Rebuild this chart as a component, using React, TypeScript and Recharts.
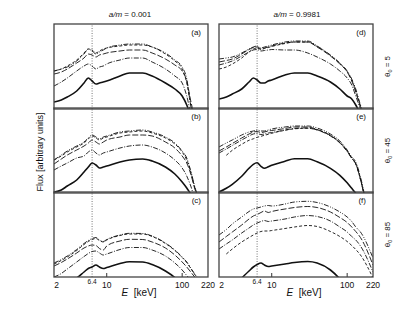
import React from 'react';
import { LineChart, Line, XAxis, YAxis, ReferenceLine } from 'recharts';

// Photon energy grid (keV)
const ENERGY = [2, 2.5, 3, 4, 5, 5.7, 6.4, 7.2, 8, 9, 10, 15, 20, 30, 40, 60, 80, 100, 115, 130, 150, 220];
const TICKS = [2, 6.4, 10, 100, 220];

// Panel (a): a/m = 0.001, theta0 = 5  (flux, arbitrary units)
const A_1 = [38, 40, 42, 48, 55, 60, 58, 55, 57, 59, 61, 64, 65, 65, 62, 56, 49, 42, 30, 3, -17, -40];
const A_2 = [35, 37, 40, 46, 51, 55, 54, 52, 54, 55, 56, 58, 59, 59, 56, 50, 44, 38, 28, 8, -12, -40];
const A_3 = [23, 27, 31, 38, 43, 45, 43, 40, 42, 43, 45, 49, 51, 51, 47, 40, 33, 26, 13, -4, -17, -40];
const A_4 = [38, 40, 43, 49, 56, 60, 59, 56, 58, 60, 61, 63, 64, 64, 62, 55, 48, 40, 26, 4, -12, -40];
const A_S = [7, 9, 12, 18, 26, 31, 28, 25, 26, 27, 28, 33, 36, 36, 33, 26, 20, 13, 4, -7, -17, -40];

// Panel (b): a/m = 0.001, theta0 = 45
const B_1 = [33, 38, 42, 47, 51, 55, 58, 56, 54, 56, 57, 61, 62, 63, 61, 56, 50, 42, 35, 22, 4, -17];
const B_2 = [29, 34, 38, 43, 47, 50, 53, 51, 49, 51, 53, 56, 58, 58, 57, 51, 45, 37, 30, 19, 2, -17];
const B_3 = [23, 27, 30, 35, 37, 41, 43, 40, 38, 40, 41, 45, 47, 48, 46, 40, 33, 25, 17, 7, -7, -17];
const B_4 = [33, 37, 41, 46, 50, 54, 57, 55, 53, 55, 56, 60, 61, 62, 60, 55, 49, 41, 33, 21, 3, -17];
const B_S = [1, 3, 7, 13, 21, 26, 30, 28, 25, 26, 27, 31, 33, 34, 32, 26, 19, 11, 5, -1, -7, -17];

// Panel (c): a/m = 0.001, theta0 = 85
const C_1 = [14, 17.5, 21, 27.5, 33.5, 36.5, 38.5, 39.5, 37, 35.5, 37.5, 42, 43.7, 43.5, 41, 34, 27, 20, 15, 9, 2, -8];
const C_2 = [11, 14.5, 18, 24, 29, 31, 32, 31.5, 28.5, 27, 31, 36, 37.7, 37.5, 35, 29, 22, 15, 10, 5, -1, -13];
const C_3 = [0, 3.5, 8, 15, 20.5, 23.5, 25.5, 26, 24, 22, 23, 27.5, 29.5, 29.5, 27, 21, 14, 7, 1.5, -3, -8, -18];
const C_4 = [13, 16.5, 20, 26.5, 32.5, 35.5, 37.5, 38.5, 36.5, 35, 37, 41.5, 43, 43, 40.5, 33.5, 26.5, 19.5, 14.5, 8.5, 1.5, -8];
const C_S = [-13, -9, -6, -1, 5, 8.5, 10, 12, 10, 8.5, 9.5, 13.5, 15.3, 15, 12.5, 6, -0.5, -7, -11, -15, -20, -33];

// Panel (d): a/m = 0.9981, theta0 = 5
const D_1 = [50, 51, 52, 56, 60, 62, 63, 61, 62, 63, 64, 67, 68, 68, 63, 54, 46, 38, 30, 20, 4, -22];
const D_2 = [47, 48.5, 50, 55, 59.5, 61.5, 62, 60, 61, 62, 63, 66, 67, 67, 62, 53, 45, 37, 28, 17, 2, -22];
const D_3 = [44, 46, 48, 53, 57, 59, 59.5, 58, 58.5, 59, 59.5, 59, 59, 56, 52, 45, 38, 31, 24, 13, 0, -22];
const D_4 = [40, 42, 45, 51, 57, 60, 61, 59.5, 60.5, 61.5, 62.5, 65.5, 67, 67, 62.5, 53.5, 45.5, 37.5, 29, 18, 3, -22];
const D_S = [10, 12, 15, 20, 27, 31, 29, 26, 26, 28, 29, 34, 36, 36, 33, 27, 20, 13, 10, 4, -5, -22];

// Panel (e): a/m = 0.9981, theta0 = 45
const E_1 = [46, 50, 53, 58, 61, 62, 63, 62, 62, 63, 64, 66, 67, 67, 65, 59, 52, 43, 36, 31, 16, -50];
const E_2 = [42, 46, 49.5, 55, 59, 61, 61.5, 60.5, 61, 62, 62.5, 64.5, 66, 66, 63.5, 57.5, 50.5, 42, 35, 29.5, 14, -50];
const E_3 = [40, 44, 47.5, 53, 57, 59, 59.5, 58.5, 59, 60, 60.5, 63, 64.5, 65, 63, 57, 50, 41.5, 34.5, 29, 13.5, -50];
const E_4 = [null, 37.7, 42.7, 48.7, 52.7, 54.2, 55.7, 56.7, 57.7, 58.7, 59.7, 62.7, 64.2, 64.7, 63.2, 57.7, 50.5, 42, 35, 29, 14, -50];
const E_S = [1, 4.7, 8.7, 16.7, 24.7, 28.7, 30.2, 26.7, 24.7, 26.2, 27.7, 31.7, 34.2, 34.2, 31.2, 24.7, 17.7, 10.2, 4.7, -0.3, -7, -22];

// Panel (f): a/m = 0.9981, theta0 = 85
const F_1 = [42, 47.5, 53, 60, 65.5, 68, 69, 70, 71, 71.5, 71, 73, 75, 75.7, 74.5, 70, 65, 60, 55.5, 50, 45, 19];
const F_2 = [35, 40.5, 45, 52, 58, 61, 62.5, 64.5, 66, 64.5, 65.5, 68, 69.5, 70.5, 69.5, 65, 59.5, 54.5, 50, 45.5, 39.5, 12];
const F_3 = [28, 33, 37, 44, 49, 52, 54, 55.5, 56.5, 55.5, 56, 58, 60, 61.5, 60.5, 56, 50, 45, 40.5, 37, 31, 5];
const F_4 = [null, 23, 28, 35, 39.5, 42, 44, 45.5, 46, 46, 46.5, 48.5, 50, 51.5, 50.5, 45.5, 40.5, 35.5, 31.5, 27.5, 22, -1];
const F_S = [-23, -16, -10, -1, 6, 10, 12.5, 14, 12, 10.5, 11, 13, 14.5, 15.5, 14, 7, -2, -11, -17, -22, -28, -45];

const PANELS = [
  { label: '(a)', col: 0, row: 0, series: [A_1, A_2, A_3, A_4, A_S] },
  { label: '(b)', col: 0, row: 1, series: [B_1, B_2, B_3, B_4, B_S] },
  { label: '(c)', col: 0, row: 2, series: [C_1, C_2, C_3, C_4, C_S] },
  { label: '(d)', col: 1, row: 0, series: [D_1, D_2, D_3, D_4, D_S] },
  { label: '(e)', col: 1, row: 1, series: [E_1, E_2, E_3, E_4, E_S] },
  { label: '(f)', col: 1, row: 2, series: [F_1, F_2, F_3, F_4, F_S] },
];

const COL_TITLES = ['0.001', '0.9981'];
const ROW_ANGLES = ['5', '45', '85'];

const STYLES = [
  { key: 's1', dash: '5 1.5 1 1.5 1 1.5', width: 0.9 },
  { key: 's2', dash: '6 2', width: 0.9 },
  { key: 's3', dash: '5 1.5 1 1.5', width: 0.9 },
  { key: 's4', dash: '3 2', width: 0.9 },
  { key: 's5', dash: undefined, width: 1.6 },
];

const FONT = '"Liberation Sans", Arial, Helvetica, sans-serif';
const COL_X = [54, 219];
const ROW_Y = [24, 108, 192];
const PW = 154;
const PH = 85;
const AXIS_H = 25;
const PAD = 12;

function buildRows(series: (number | null)[][]) {
  return ENERGY.map((e, i) => {
    const row: any = { E: e };
    series.forEach((s, k) => {
      row['s' + (k + 1)] = s[i];
    });
    return row;
  });
}

function AxisTick(props: any) {
  const { x, y, payload, showLabel } = props;
  const v = payload.value;
  const inner = v === 10 || v === 100;
  const small = v === 6.4;
  const dx = v === 2 ? 2.5 : 0;
  return (
    <g>
      {inner && <line x1={x} x2={x} y1={y} y2={y - 4} stroke="#333" strokeWidth={1} />}
      {showLabel && (
        <text
          x={x + dx}
          y={y + (small ? 7 : 11)}
          textAnchor="middle"
          fontSize={small ? 6.5 : 8.5}
          fill="#111"
          fontFamily={FONT}
        >
          {v}
        </text>
      )}
    </g>
  );
}

function Panel({ def }: { def: any }) {
  const bottom = def.row === 2;
  return (
    <div style={{ position: 'absolute', left: COL_X[def.col] - PAD, top: ROW_Y[def.row] }}>
      <LineChart
        width={PW + 2 * PAD}
        height={PH + (bottom ? AXIS_H : 0)}
        data={buildRows(def.series)}
        margin={{ top: 0, right: PAD, bottom: 0, left: PAD }}
      >
        <XAxis
          dataKey="E"
          type="number"
          scale="log"
          domain={[2, 220]}
          allowDataOverflow
          ticks={TICKS}
          interval={0}
          height={bottom ? AXIS_H : 0}
          axisLine={false}
          tickLine={false}
          tickSize={0}
          tickMargin={0}
          tick={(p: any) => <AxisTick {...p} showLabel={bottom} />}
        />
        <YAxis hide type="number" domain={[0, 85]} allowDataOverflow />
        <ReferenceLine x={6.4} stroke="#777" strokeWidth={1} strokeDasharray="1 1.5" />
        {STYLES.map((s) => (
          <Line
            key={s.key}
            dataKey={s.key}
            type="monotone"
            stroke="#111"
            strokeWidth={s.width}
            strokeDasharray={s.dash}
            dot={false}
            activeDot={false}
            connectNulls={false}
            isAnimationActive={false}
          />
        ))}
      </LineChart>
    </div>
  );
}

export default function App() {
  return (
    <div
      style={{
        position: 'absolute',
        left: 0,
        top: 0,
        width: 415,
        height: 311,
        background: '#fff',
        fontFamily: FONT,
        overflow: 'hidden',
      }}
    >
      {PANELS.map((p) => (
        <Panel key={p.label} def={p} />
      ))}
      <svg
        width={415}
        height={311}
        style={{ position: 'absolute', left: 0, top: 0, pointerEvents: 'none' }}
        fontFamily={FONT}
      >
        {PANELS.map((p) => (
          <g key={'f' + p.label}>
            <rect
              x={COL_X[p.col]}
              y={ROW_Y[p.row]}
              width={PW}
              height={PH}
              fill="none"
              stroke="#444"
              strokeWidth={1.3}
            />
            <text
              x={COL_X[p.col] + PW - 7}
              y={ROW_Y[p.row] + 10.5}
              textAnchor="end"
              fontSize={8}
              fill="#111"
            >
              {p.label}
            </text>
          </g>
        ))}
        {COL_TITLES.map((t, i) => (
          <text key={'t' + i} x={i === 0 ? 130 : 297} y={17} textAnchor="middle" fontSize={8} fill="#111">
            <tspan fontStyle="italic">a/m</tspan> = {t}
          </text>
        ))}
        {ROW_ANGLES.map((a, i) => {
          const cy = ROW_Y[i] + PH / 2;
          return (
            <text
              key={'r' + i}
              x={390}
              y={cy}
              textAnchor="middle"
              fontSize={8}
              fill="#111"
              transform={`rotate(-90 390 ${cy})`}
            >
              θ<tspan fontSize={5.5} dy={2}>0</tspan>
              <tspan dy={-2}>{' = ' + a}</tspan>
            </text>
          );
        })}
        <text x={43} y={152} textAnchor="middle" fontSize={9} fill="#111" transform="rotate(-90 43 152)">
          Flux [arbitrary units]
        </text>
        {[139, 304].map((cx, i) => (
          <text key={'x' + i} x={cx} y={296} textAnchor="middle" fontSize={10} fill="#111">
            <tspan fontStyle="italic">E</tspan>
            {'\u00a0\u00a0[keV]'}
          </text>
        ))}
      </svg>
    </div>
  );
}
